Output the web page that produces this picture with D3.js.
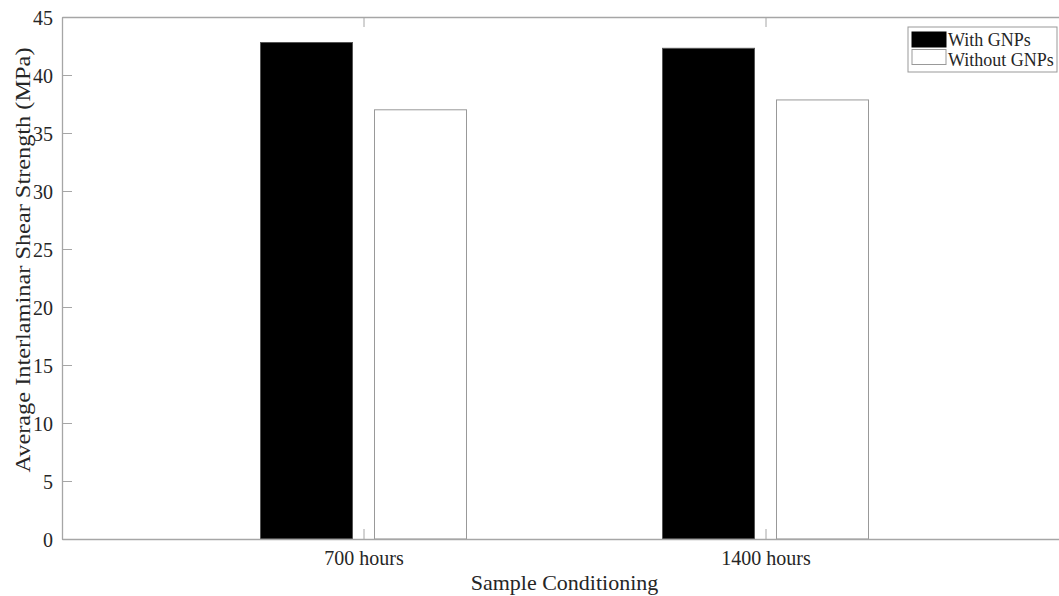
<!DOCTYPE html>
<html>
<head>
<meta charset="utf-8">
<style>
  body { margin: 0; background: #fff; overflow: hidden; }
  text { font-family: "Liberation Serif", "Times New Roman", serif; fill: #262626; }
</style>
</head>
<body>
<div id="chart"></div>
<script src="https://d3js.org/d3.v7.min.js"></script>
<script>
// data
const categories = ["700 hours", "1400 hours"];
const seriesNames = ["With GNPs", "Without GNPs"];
const withGNPs = [42.8, 42.3];
const withoutGNPs = [37.0, 37.85];
const yTicks = [0, 5, 10, 15, 20, 25, 30, 35, 40, 45];

const width = 1059, height = 596;
const margin = { top: 17, right: -8, bottom: 57, left: 62 };
const axisColor = "#a6a6a6";
const serif = '"Liberation Serif", "Times New Roman", serif';

const svg = d3.select("#chart").append("svg")
  .attr("width", width)
  .attr("height", height);

const x = d3.scaleLinear()
  .domain([0.25, 2.75])
  .range([margin.left, width - margin.right]);

const y = d3.scaleLinear()
  .domain([0, 45])
  .range([height - margin.bottom, margin.top]);

const barW = 92, offset = 57;
const bars = [];
categories.forEach((c, i) => {
  bars.push({ cat: i + 1, v: withGNPs[i], dx: -offset, fill: "#000", stroke: "#555" });
  bars.push({ cat: i + 1, v: withoutGNPs[i], dx: offset, fill: "#fff", stroke: "#999" });
});

svg.append("g")
  .selectAll("rect")
  .data(bars)
  .join("rect")
  .attr("x", d => x(d.cat) + d.dx - barW / 2)
  .attr("y", d => y(d.v))
  .attr("width", barW)
  .attr("height", d => y(0) - y(d.v))
  .attr("fill", d => d.fill)
  .attr("stroke", d => d.stroke)
  .attr("stroke-width", 1);

// axes, ticks pointing inward
const yAxis = svg.append("g")
  .attr("transform", `translate(${margin.left},0)`)
  .call(d3.axisLeft(y).tickValues(yTicks).tickSizeInner(-10).tickSizeOuter(0).tickPadding(9));

const xAxis = svg.append("g")
  .attr("transform", `translate(0,${y(0)})`)
  .call(d3.axisBottom(x).tickValues([1, 2]).tickFormat((d, i) => categories[i])
    .tickSizeInner(-10).tickSizeOuter(0).tickPadding(12));

const topAxis = svg.append("g")
  .attr("transform", `translate(0,${margin.top})`)
  .call(d3.axisTop(x).tickValues([1, 2]).tickFormat("").tickSizeInner(-10).tickSizeOuter(0));

[yAxis, xAxis, topAxis].forEach(g => {
  g.attr("font-family", serif);
  g.select(".domain").attr("stroke", axisColor).attr("stroke-width", 1.3);
  g.selectAll(".tick line").attr("stroke", axisColor);
  g.selectAll(".tick text").style("font-size", "20px").attr("fill", "#262626");
});
yAxis.selectAll(".tick text").attr("dy", "0.35em");

// axis titles
svg.append("text")
  .attr("x", x(1.5))
  .attr("y", 590)
  .attr("text-anchor", "middle")
  .style("font-size", "22px")
  .text("Sample Conditioning");

svg.append("text")
  .attr("transform", "translate(30,260) rotate(-90)")
  .attr("text-anchor", "middle")
  .attr("textLength", 425)
  .attr("lengthAdjust", "spacingAndGlyphs")
  .style("font-size", "22px")
  .text("Average Interlaminar Shear Strength (MPa)");

// legend
const lg = svg.append("g").attr("transform", "translate(908,27)");
lg.append("rect")
  .attr("width", 149).attr("height", 45)
  .attr("fill", "#fff").attr("stroke", "#999");
const swatchFill = ["#000", "#fff"];
seriesNames.forEach((s, i) => {
  lg.append("rect")
    .attr("x", 4).attr("y", 5 + i * 17.5)
    .attr("width", 34).attr("height", 15)
    .attr("fill", swatchFill[i]).attr("stroke", i ? "#999" : "#000");
  lg.append("text")
    .attr("x", 40).attr("y", 19 + i * 19.5)
    .style("font-size", "18px")
    .text(s);
});
</script>
</body>
</html>
